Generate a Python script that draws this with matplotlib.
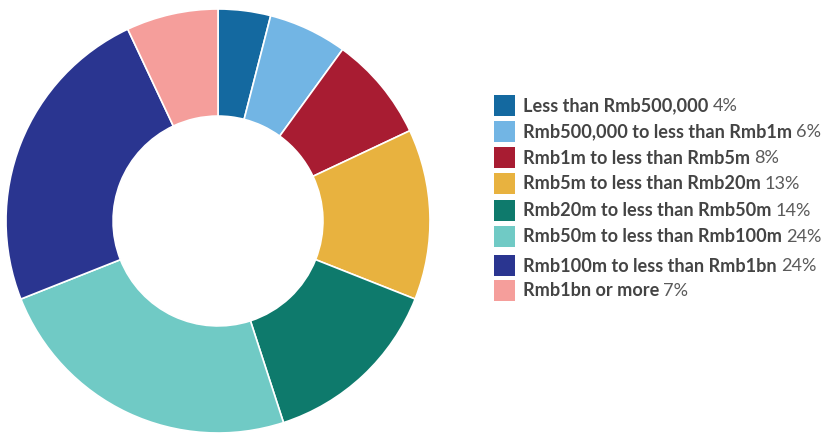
import matplotlib
matplotlib.use("Agg")
import matplotlib.pyplot as plt
from matplotlib.patches import Rectangle

categories = [
    "Less than Rmb500,000",
    "Rmb500,000 to less than Rmb1m",
    "Rmb1m to less than Rmb5m",
    "Rmb5m to less than Rmb20m",
    "Rmb20m to less than Rmb50m",
    "Rmb50m to less than Rmb100m",
    "Rmb100m to less than Rmb1bn",
    "Rmb1bn or more",
]
shares = [4, 6, 8, 13, 14, 24, 24, 7]
colors = ["#1469a0", "#72b5e4", "#a81c32", "#e8b23f",
          "#0e7a6c", "#70cac5", "#2a3590", "#f59e9b"]

W, H = 824, 435
fig = plt.figure(figsize=(W / 100, H / 100), dpi=100)

# donut, centre (218, 222) px, outer radius 212 px
cx, cy, r = 218, 222, 212
ax = fig.add_axes([(cx - r) / W, (H - cy - r) / H, 2 * r / W, 2 * r / H])
ax.pie(shares, colors=colors, startangle=90, counterclock=False, radius=1,
       wedgeprops=dict(width=0.505, edgecolor="white", linewidth=1.2))
ax.set_xlim(-1, 1)
ax.set_ylim(-1, 1)
ax.set_aspect("equal")
ax.axis("off")

# legend drawn by hand
row_y = [106, 132, 158, 184, 211, 237, 266, 291]
for name, pct, col, y in zip(categories, shares, colors, row_y):
    fig.patches.append(Rectangle((494 / W, (H - y - 10.5) / H), 21 / W, 21 / H,
                                 transform=fig.transFigure, facecolor=col,
                                 edgecolor="none"))
    t = fig.text(523 / W, (H - y) / H, name, fontsize=13.1, fontweight="bold",
                 family="Lato", color="#444444", va="center", ha="left")
    fig.canvas.draw()
    bb = t.get_window_extent()
    fig.text((bb.x1 + 4) / W, (H - y) / H, f"{pct}%", fontsize=13.1,
             family="Lato", color="#5a5a5a",
             va="center", ha="left")

fig.savefig("out.png", dpi=100)
